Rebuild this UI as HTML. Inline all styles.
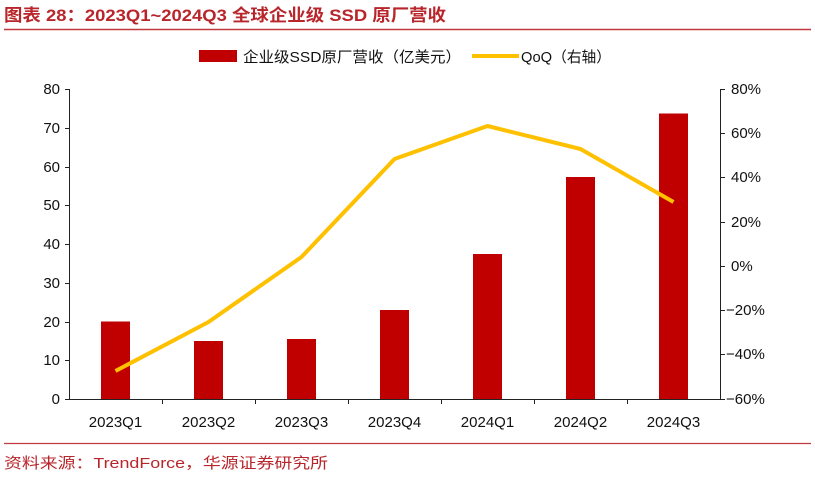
<!DOCTYPE html>
<html><head><meta charset="utf-8"><style>
body{margin:0;background:#fff;width:815px;height:487px;overflow:hidden}
</style></head><body>
<svg width="815" height="487" xmlns="http://www.w3.org/2000/svg" font-family="Liberation Sans, Noto Sans CJK SC, sans-serif">
<text x="4" y="21" font-size="17" font-weight="bold" fill="#b8262b" textLength="442" lengthAdjust="spacingAndGlyphs">图表 28：2023Q1~2024Q3 全球企业级 SSD 原厂营收</text>
<line x1="4" y1="29.5" x2="811" y2="29.5" stroke="#c0393e" stroke-width="1.5"/>
<rect x="199" y="50" width="38" height="12" fill="#c00000"/>
<text x="243" y="62" font-size="15" fill="#111" textLength="218" lengthAdjust="spacingAndGlyphs">企业级SSD原厂营收（亿美元）</text>
<line x1="472" y1="56" x2="519" y2="56" stroke="#ffc000" stroke-width="4"/>
<text x="521" y="62" font-size="15" fill="#111" textLength="90" lengthAdjust="spacingAndGlyphs">QoQ（右轴）</text>
<g fill="#c00000">
<rect x="101" y="321.5" width="29" height="77.5"/>
<rect x="194" y="341" width="29" height="58"/>
<rect x="287" y="339" width="29" height="60"/>
<rect x="380" y="310" width="29" height="89"/>
<rect x="473" y="254" width="29" height="145"/>
<rect x="566" y="177" width="29" height="222"/>
<rect x="659" y="113.5" width="29" height="285.5"/>
</g>
<polyline points="115.5,371 208.5,322 301.5,257 394.5,159 487.5,126 580.5,149 673.5,202" fill="none" stroke="#ffc000" stroke-width="4" stroke-linejoin="round"/>
<g stroke="#222" stroke-width="1" fill="none">
<line x1="69.5" y1="89" x2="69.5" y2="399"/>
<line x1="720.5" y1="89" x2="720.5" y2="399"/>
<line x1="65" y1="399.5" x2="725" y2="399.5"/>
<path d="M65 89.5h5M65 128.5h5M65 167.5h5M65 205.5h5M65 244.5h5M65 283.5h5M65 322.5h5M65 360.5h5"/>
<path d="M720 89.5h5M720 133.5h5M720 177.5h5M720 222.5h5M720 266.5h5M720 310.5h5M720 354.5h5"/>
<path d="M162.5 399v5M255.5 399v5M348.5 399v5M441.5 399v5M534.5 399v5M627.5 399v5"/>
</g>
<g font-size="15" fill="#111" text-anchor="end">
<text x="60" y="94">80</text><text x="60" y="133">70</text><text x="60" y="172">60</text><text x="60" y="210">50</text><text x="60" y="249">40</text><text x="60" y="288">30</text><text x="60" y="327">20</text><text x="60" y="365">10</text><text x="60" y="404">0</text>
</g>
<g font-size="15" fill="#111">
<text x="731" y="94">80%</text><text x="731" y="138">60%</text><text x="731" y="182">40%</text><text x="731" y="227">20%</text><text x="731" y="271">0%</text><text x="726" y="315">−20%</text><text x="726" y="359">−40%</text><text x="726" y="404">−60%</text>
</g>
<g font-size="15" fill="#111" text-anchor="middle">
<text x="115.5" y="427">2023Q1</text><text x="208.5" y="427">2023Q2</text><text x="301.5" y="427">2023Q3</text><text x="394.5" y="427">2023Q4</text><text x="487.5" y="427">2024Q1</text><text x="580.5" y="427">2024Q2</text><text x="673.5" y="427">2024Q3</text>
</g>
<line x1="4" y1="443.5" x2="811" y2="443.5" stroke="#c0393e" stroke-width="1.2"/>
<text x="4" y="468" font-size="15" fill="#b8262b" textLength="324" lengthAdjust="spacingAndGlyphs">资料来源：TrendForce，华源证券研究所</text>
</svg>
</body></html>
